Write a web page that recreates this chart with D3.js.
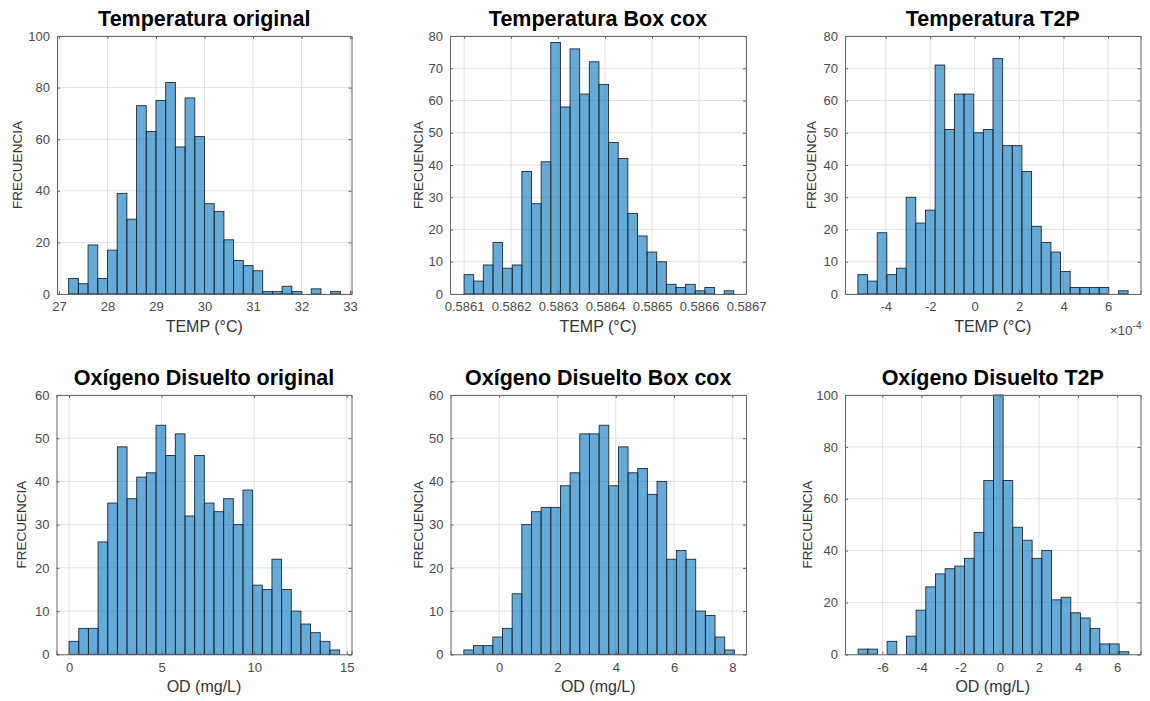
<!DOCTYPE html>
<html><head><meta charset="utf-8">
<script src="https://cdn.jsdelivr.net/npm/d3@7"></script>
<style>
body{margin:0;background:#fff}
svg{display:block;font-family:"Liberation Sans",Arial,Helvetica,sans-serif}
</style>
</head><body>
<svg id="c" width="1150" height="701"></svg>
<script>
// ---------------- DATA ----------------
const titles = ["Temperatura original","Temperatura Box cox","Temperatura T2P",
                "Oxígeno Disuelto original","Oxígeno Disuelto Box cox","Oxígeno Disuelto T2P"];
const xLabels = ["TEMP (°C)","TEMP (°C)","TEMP (°C)","OD (mg/L)","OD (mg/L)","OD (mg/L)"];
const yLabel = "FRECUENCIA";

// counts per bin
const tempOrigCounts = [6,4,19,6,17,39,29,73,63,75,82,57,76,61,35,32,21,13,11,9,1,1,3,1,0,2,0,1];
const tempBoxCounts  = [6,4,9,16,8,9,38,28,41,78,58,76,62,72,65,47,42,25,18,13,10,3,2,3,1,2,0,1];
const tempT2PCounts  = [6,4,19,6,8,30,22,26,71,51,62,62,50,51,73,46,46,38,21,16,13,7,2,2,2,2,0,1];
const odOrigCounts   = [3,6,6,26,35,48,36,41,42,53,46,51,32,46,35,33,36,30,38,16,15,22,15,10,7,5,3,1];
const odBoxCounts    = [1,2,2,4,6,14,30,33,34,34,39,42,51,51,53,39,48,42,43,37,40,22,24,22,10,9,4,1];
const odT2PCounts    = [2,2,0,5,0,7,17,26,31,33,34,37,47,67,100,67,49,44,37,40,21,22,16,14,10,4,4,1];

// first bin edge and bin width
const binStarts = [27.2, 0.5861, -5.25e-4, 0, -1.212, -7.24];
const binWidths = [0.2, 0.0000205, 0.434e-4, 0.522, 0.3315, 0.494];

// axis limits
const xDomains = [[26.96,33.03],[0.58607,0.5867],[-5.83e-4,7.46e-4],[-0.68,15.26],[-1.67,8.47],[-7.91,7.19]];
const yMaxes = [100,80,80,60,60,100];

// tick values
const xTicks = [
  [27,28,29,30,31,32,33],
  [0.5861,0.5862,0.5863,0.5864,0.5865,0.5866,0.5867],
  [-4e-4,-2e-4,0,2e-4,4e-4,6e-4],
  [0,5,10,15],
  [0,2,4,6,8],
  [-6,-4,-2,0,2,4,6]
];
const yTicks = [
  [0,20,40,60,80,100],
  [0,10,20,30,40,50,60,70,80],
  [0,10,20,30,40,50,60,70,80],
  [0,10,20,30,40,50,60],
  [0,10,20,30,40,50,60],
  [0,20,40,60,80,100]
];
const xTickLabels = [
  ["27","28","29","30","31","32","33"],
  ["0.5861","0.5862","0.5863","0.5864","0.5865","0.5866","0.5867"],
  ["-4","-2","0","2","4","6"],
  ["0","5","10","15"],
  ["0","2","4","6","8"],
  ["-6","-4","-2","0","2","4","6"]
];
const exponentLabels = [null,null,"-4",null,null,null];

const countsAll = [tempOrigCounts,tempBoxCounts,tempT2PCounts,odOrigCounts,odBoxCounts,odT2PCounts];

// ---------------- LAYOUT ----------------
const boxes = [
  {l:57,  r:351.5, t:36,  b:294,   ylx:17},
  {l:450, r:746,   t:36,  b:294,   ylx:418},
  {l:845, r:1140.5,t:36,  b:294,   ylx:811.5},
  {l:56.5,r:351.5, t:395, b:654.3, ylx:21.5},
  {l:450.5,r:746,  t:395, b:654.3, ylx:418},
  {l:845, r:1140.5,t:395, b:654.3, ylx:807}
];

const svg = d3.select("#c");
const tickColor = "#4a4a4a";
const boxColor = "#666";

boxes.forEach((bx, i) => {
  const x = d3.scaleLinear().domain(xDomains[i]).range([bx.l, bx.r]);
  const y = d3.scaleLinear().domain([0, yMaxes[i]]).range([bx.b, bx.t]);
  const g = svg.append("g");

  // grid
  g.append("g").selectAll("line.gx").data(xTicks[i]).join("line")
    .attr("x1", d => x(d)).attr("x2", d => x(d))
    .attr("y1", bx.t).attr("y2", bx.b)
    .attr("stroke", "#e3e3e3").attr("stroke-width", 1);
  g.append("g").selectAll("line.gy").data(yTicks[i]).join("line")
    .attr("x1", bx.l).attr("x2", bx.r)
    .attr("y1", d => y(d)).attr("y2", d => y(d))
    .attr("stroke", "#e3e3e3").attr("stroke-width", 1);

  // bars
  const bins = countsAll[i].map((c, k) => ({
    x0: binStarts[i] + k * binWidths[i],
    x1: binStarts[i] + (k + 1) * binWidths[i],
    c
  })).filter(d => d.c > 0);
  g.append("g").selectAll("rect").data(bins).join("rect")
    .attr("x", d => x(d.x0))
    .attr("width", d => x(d.x1) - x(d.x0))
    .attr("y", d => y(Math.min(d.c, yMaxes[i])))
    .attr("height", d => bx.b - y(Math.min(d.c, yMaxes[i])))
    .attr("fill", "#0072BD").attr("fill-opacity", 0.6)
    .attr("stroke", "#1f2a35").attr("stroke-width", 0.9);

  // axes via d3 axis (ticks inside)
  const tl = 3;
  const xAxisB = d3.axisBottom(x).tickValues(xTicks[i]).tickSize(-tl).tickPadding(8)
    .tickFormat((d, k) => xTickLabels[i][k]);
  const xAxisT = d3.axisTop(x).tickValues(xTicks[i]).tickSize(-tl).tickFormat("");
  const yAxisL = d3.axisLeft(y).tickValues(yTicks[i]).tickSize(-tl).tickPadding(7);
  const yAxisR = d3.axisRight(y).tickValues(yTicks[i]).tickSize(-tl).tickFormat("");

  const ax = [
    g.append("g").attr("transform", `translate(0,${bx.b})`).call(xAxisB),
    g.append("g").attr("transform", `translate(0,${bx.t})`).call(xAxisT),
    g.append("g").attr("transform", `translate(${bx.l},0)`).call(yAxisL),
    g.append("g").attr("transform", `translate(${bx.r},0)`).call(yAxisR)
  ];
  ax.forEach(a => {
    a.select(".domain").attr("stroke", boxColor).attr("stroke-width", 1);
    a.selectAll(".tick line").attr("stroke", boxColor);
    a.selectAll(".tick text").attr("fill", tickColor)
      .style("font-size", "13px").style("font-family", "'Liberation Sans',Arial,sans-serif");
  });

  // title
  svg.append("text")
    .attr("x", (bx.l + bx.r) / 2).attr("y", bx.t - 10)
    .attr("text-anchor", "middle")
    .style("font-size", "21.5px").style("font-weight", "bold").attr("fill", "#000")
    .text(titles[i]);

  // x label
  svg.append("text")
    .attr("x", (bx.l + bx.r) / 2).attr("y", bx.b + 38)
    .attr("text-anchor", "middle")
    .style("font-size", "16px").attr("fill", "#333")
    .text(xLabels[i]);

  // y label
  svg.append("text")
    .attr("transform", `translate(${bx.ylx},${(bx.t + bx.b) / 2}) rotate(-90)`)
    .attr("text-anchor", "middle").attr("dy", "0.35em")
    .style("font-size", "13.5px").attr("fill", "#333")
    .text(yLabel);

  // exponent label
  if (exponentLabels[i]) {
    const t = svg.append("text")
      .attr("x", bx.r + 1).attr("y", bx.b + 41)
      .attr("text-anchor", "end")
      .style("font-size", "13.5px").attr("fill", tickColor);
    t.append("tspan").text("×10");
    t.append("tspan").attr("dy", "-6").style("font-size", "10px").text(exponentLabels[i]);
  }
});
</script>
</body></html>
